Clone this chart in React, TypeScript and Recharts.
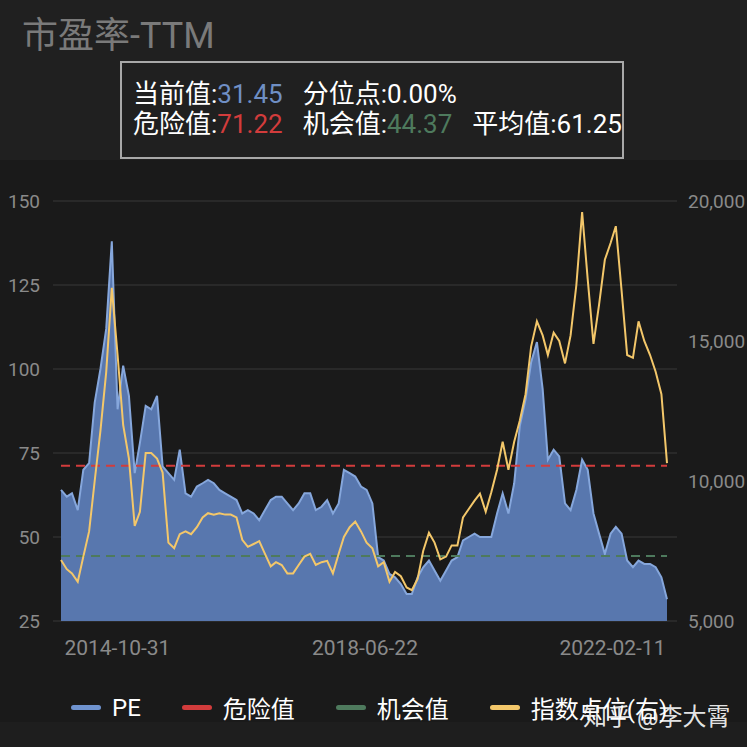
import { ComposedChart, Area, Line, XAxis, YAxis, CartesianGrid } from 'recharts'

// monthly points, 2014-01 .. 2022-12
const months: string[] = []
for (let y = 2014; y <= 2022; y++) {
  for (let m = 1; m <= 12; m++) months.push(`${y}-${String(m).padStart(2, '0')}-01`)
}

const pe = [
  64, 62, 63, 58, 70, 72, 90, 100, 112, 138, 88, 101,
  92, 69, 78, 89, 88, 92, 71, 69, 67, 76, 63, 62,
  65, 66, 67, 66, 64, 63, 62, 61, 57, 58, 57, 55,
  58, 61, 62, 62, 60, 58, 60, 63, 63, 58, 59, 61,
  57, 60, 70, 69, 68, 65, 64, 60, 44, 43, 39, 38,
  36, 33, 33, 38, 41, 43, 40, 37, 40, 43, 44, 49,
  50, 51, 50, 50, 50, 57, 63, 57, 66, 83, 91, 102,
  108, 94, 73, 76, 74, 60, 58, 64, 73, 70, 57, 51,
  45, 51, 53, 51, 43, 41, 43, 42, 42, 41, 38, 31.45,
]

const indexPts = [
  7180, 6850, 6700, 6400, 7300, 8200, 10000, 11800, 13900, 16900, 14500, 12000,
  10800, 8400, 8900, 11000, 11000, 10800, 10300, 7800, 7600, 8100, 8200, 8100,
  8350, 8700, 8850, 8800, 8850, 8800, 8800, 8700, 7900, 7650, 7750, 7850,
  7400, 6950, 7100, 7000, 6700, 6700, 7000, 7300, 7400, 7000, 7100, 7150,
  6700, 7400, 8000, 8350, 8550, 8200, 7800, 7600, 6950, 7100, 6400, 6750,
  6600, 6200, 6100, 6500, 7500, 8150, 7800, 7200, 7300, 7700, 7700, 8700,
  9000, 9300, 9550, 8900, 9600, 10400, 11400, 10400, 11400, 12150, 13100, 14800,
  15700, 15200, 14500, 15300, 15000, 14200, 15200, 17000, 19600, 17200, 14900, 16300,
  17900, 18500, 19100, 16800, 14500, 14400, 15700, 15000, 14500, 13900, 13100, 10640,
]

const CURRENT = '31.45'
const PERCENTILE = '0.00%'
const DANGER = 71.22
const CHANCE = 44.37
const AVERAGE = '61.25'

const xTicks = ['2014-10-31', '2018-06-22', '2022-02-11']
const leftTicks = [25, 50, 75, 100, 125, 150]
const rightTicks = [5000, 10000, 15000, 20000]

const legendItems = [
  { name: 'PE', color: '#6f93cf' },
  { name: '危险值', color: '#d23c3c' },
  { name: '机会值', color: '#4e7a5d' },
  { name: '指数点位(右)', color: '#f3c76a' },
]

const toTs = (d: string) => Date.parse(d + 'T00:00:00Z')

const data = months.map((d, i) => ({
  t: toTs(d),
  pe: pe[i],
  idx: indexPts[i],
  danger: DANGER,
  chance: CHANCE,
}))

const font = 'Roboto, "Noto Sans CJK SC", sans-serif'
const axisTick = { fill: '#8a8a8a', fontSize: 19, fontFamily: font }

export default function App() {
  return (
    <div style={{ position: 'absolute', left: 0, top: 0, width: 747, height: 747, background: '#1a1a1a', fontFamily: font, overflow: 'hidden' }}>
      <div style={{ position: 'absolute', left: 0, top: 0, width: 747, height: 160, background: '#202020' }} />
      <div style={{ position: 'absolute', left: 0, top: 722, width: 747, height: 25, background: '#1e1e1e' }} />
      <div style={{ position: 'absolute', left: 22, top: 18, fontSize: 36, lineHeight: '36px', color: '#7a7a7a', whiteSpace: 'nowrap' }}>市盈率-TTM</div>
      <div
        style={{
          position: 'absolute', left: 120, top: 61, width: 504, height: 98,
          border: '2px solid #a8a8a8', color: '#ffffff', fontSize: 26, lineHeight: '30px',
          padding: '16px 0 0 11px', boxSizing: 'border-box', whiteSpace: 'nowrap',
        }}
      >
        <div>
          当前值:<span style={{ color: '#6f8fc4' }}>{CURRENT}</span>
          <span style={{ marginLeft: 20 }}>分位点:{PERCENTILE}</span>
        </div>
        <div>
          危险值:<span style={{ color: '#d23c3c' }}>{DANGER}</span>
          <span style={{ marginLeft: 20 }}>机会值:</span><span style={{ color: '#4e7a5d' }}>{CHANCE}</span>
          <span style={{ marginLeft: 20 }}>平均值:{AVERAGE}</span>
        </div>
      </div>

      <div style={{ position: 'absolute', left: 0, top: 0 }}>
        <ComposedChart width={747} height={747} data={data} margin={{ top: 201, right: 0, bottom: 96, left: 0 }}>
          <CartesianGrid yAxisId="left" vertical={false} stroke="#393939" />
          <XAxis
            dataKey="t"
            type="number"
            scale="time"
            domain={['dataMin', 'dataMax']}
            ticks={xTicks.map(toTs)}
            tickFormatter={(v: number) => new Date(v).toISOString().slice(0, 10)}
            padding={{ left: 8, right: 10 }}
            axisLine={false}
            tickLine={false}
            tickMargin={13}
            height={30}
            tick={{ ...axisTick, fontSize: 21 }}
          />
          <YAxis
            yAxisId="left"
            domain={[25, 150]}
            ticks={leftTicks}
            width={53}
            axisLine={false}
            tickLine={false}
            tickMargin={7}
            tick={axisTick}
          />
          <YAxis
            yAxisId="right"
            orientation="right"
            domain={[5000, 20000]}
            ticks={rightTicks}
            width={70}
            axisLine={false}
            tickLine={false}
            tickMargin={5}
            tick={axisTick}
            tickFormatter={(v: number) => v.toLocaleString('en-US')}
          />
          <Line yAxisId="left" dataKey="chance" type="linear" stroke="#4e7a5d" strokeWidth={2} strokeDasharray="9 6" dot={false} isAnimationActive={false} />
          <Area yAxisId="left" dataKey="pe" type="linear" stroke="#86a7dc" strokeWidth={2} fill="#5877ae" fillOpacity={1} isAnimationActive={false} />
          <Line yAxisId="left" dataKey="danger" type="linear" stroke="#d23c3c" strokeWidth={2} strokeDasharray="9 6" dot={false} isAnimationActive={false} />
          <Line yAxisId="right" dataKey="idx" type="linear" stroke="#f3c76a" strokeWidth={2} dot={false} isAnimationActive={false} />
        </ComposedChart>
      </div>

      <div style={{ position: 'absolute', left: 71, top: 690, display: 'flex', alignItems: 'center', color: '#ffffff', fontSize: 24, whiteSpace: 'nowrap' }}>
        {legendItems.map(item => (
          <div key={item.name} style={{ display: 'flex', alignItems: 'center', marginRight: 41 }}>
            <span style={{ display: 'inline-block', width: 30, height: 5, borderRadius: 3, background: item.color, marginRight: 11 }} />
            <span>{item.name}</span>
          </div>
        ))}
      </div>
      <div style={{ position: 'absolute', left: 583, top: 697, color: 'rgba(255,255,255,0.9)', fontSize: 24, whiteSpace: 'nowrap' }}>知乎 @李大霄</div>
    </div>
  )
}
